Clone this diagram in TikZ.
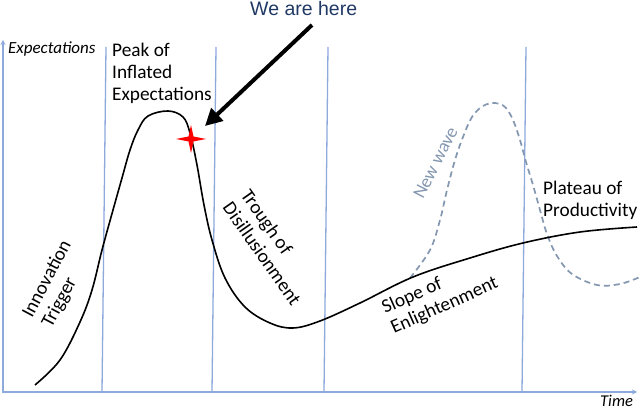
\documentclass[tikz,border=0pt]{standalone}
\usepackage{fontspec}
\setmainfont{Carlito}
\newfontfamily\arialfont{Liberation Sans}
\usetikzlibrary{arrows.meta}
\definecolor{axisblue}{HTML}{8EA9DB}
\definecolor{wavegray}{HTML}{8497B0}
\definecolor{navy}{HTML}{1F3864}
\definecolor{starred}{HTML}{FF0000}
\tikzset{
  phase/.style={draw=axisblue, line width=1.3pt},
  axis/.style={draw=axisblue, line width=1.3pt, -{Stealth[length=5pt,width=5pt]}},
  lbl/.style={inner sep=0pt, anchor=base west, align=left, font=\fontsize{19.3}{22}\selectfont},
  axlbl/.style={inner sep=0pt, anchor=base west, font=\fontsize{17}{20}\selectfont\itshape},
  hype/.style={draw=black, line width=1.6pt},
  wave/.style={draw=wavegray, line width=1.7pt, dash pattern=on 6pt off 4pt},
  pointer/.style={draw=black, line width=4pt, -{Triangle[length=17pt,width=17pt]}},
}
\begin{document}
\begin{tikzpicture}[x=1pt,y=-1pt]
\useasboundingbox (0,0) rectangle (640,411);
% axes
\coordinate (origin) at (2,392);
\coordinate (ytop) at (3,40);
\coordinate (xend) at (637,392);
\draw[axis] (3,392) -- (ytop);
\draw[axis] (origin) -- (xend);
% phase separators
\coordinate (s1b) at (102,392); \coordinate (s1t) at (106,47);
\coordinate (s2b) at (212,392); \coordinate (s2t) at (216,47);
\coordinate (s3b) at (324,392); \coordinate (s3t) at (328,47);
\coordinate (s4b) at (522,392); \coordinate (s4t) at (526,47);
\draw[phase] (s1b) -- (s1t);
\draw[phase] (s2b) -- (s2t);
\draw[phase] (s3b) -- (s3t);
\draw[phase] (s4b) -- (s4t);
% new wave
\draw[wave] plot[smooth, tension=0.6] coordinates {(410,278) (430,250) (440,220) (447,190) (455,160) (463,137) (472,117) (483,106) (495,103) (505,107) (513,120) (520,140) (526,162) (533,185) (540,210) (547,234) (557,256) (572,274) (597,285) (620,284) (640,277)};
% hype curve
\draw[hype] plot[smooth, tension=0.6] coordinates {(35,385) (60,360) (80,322) (92,290) (102,250) (113,210) (122,178) (130,150) (138,130) (148,116) (168,111) (183,117) (190,133) (197,165) (204,205) (212,240) (225,278) (245,307) (270,323) (293,328) (320,321) (360,303) (413,277) (470,258) (523,243) (580,232) (637,227)};
% star
\fill[starred] (191,125) -- (193.5,136.5) -- (206,139) -- (193.5,141.5) -- (191,153) -- (188.5,141.5) -- (176,139) -- (188.5,136.5) -- cycle;
% labels (anchor = start of last line's baseline)
\node[axlbl] (ylabel) at (8,54) {Expectations};
\node[axlbl, font=\fontsize{16.5}{20}\selectfont\itshape] (xlabel) at (600,407) {Time};
\node[lbl] (peak) at (112,101) {Peak of\\Inflated\\Expectations};
\node[lbl, rotate=62] (trigger) at (51.5,329) {Innovation\\Trigger};
\node[lbl, rotate=-55] (trough) at (222,207.5) {Trough of\\Disillusionment};
\node[lbl, rotate=24] (slope) at (394,334) {Slope of\\Enlightenment};
\node[lbl] (plateau) at (543,217) {Plateau of\\Productivity};
\node[lbl, rotate=63, text=wavegray, font=\fontsize{18.5}{22}\selectfont] (newwave) at (423,200) {New wave};
\node[inner sep=0pt, anchor=base west, text=navy, font=\arialfont\fontsize{19.5}{22}\selectfont] (here) at (250,16) {We are here};
% pointer
\coordinate (arrowstart) at (312,25);
\coordinate (arrowtip) at (205,126);
\draw[pointer] (arrowstart) -- (arrowtip);
\end{tikzpicture}
\end{document}
